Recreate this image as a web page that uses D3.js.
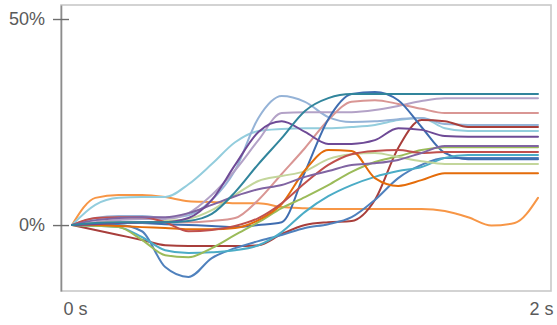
<!DOCTYPE html>
<html>
<head>
<meta charset="utf-8">
<script src="https://cdn.jsdelivr.net/npm/d3@7"></script>
<style>
  body { margin: 0; background: #fff; }
  svg { display: block; }
</style>
</head>
<body>
<svg id="chart" width="557" height="325"></svg>
<script>
// Sample times (seconds) shared by every trace
const times = [0, 0.1, 0.2, 0.3, 0.4, 0.5, 0.6, 0.7, 0.8, 0.9, 1.0,
               1.1, 1.2, 1.3, 1.4, 1.5, 1.6, 1.7, 1.8, 1.9, 2.0];

// Relative change (%) of each trace at those times
const teal      = [0, 0.5, 0.7, 0.7, 0.7, 1.0, 2.7, 8.0, 14.8, 21.1, 27.7, 30.8, 31.8, 31.8, 31.8, 31.8, 31.8, 31.8, 31.8, 31.8, 31.8];
const orange    = [0, 6.6, 7.3, 7.3, 6.8, 5.8, 5.6, 5.3, 5.3, 4.4, 4.1, 3.9, 3.9, 3.9, 3.9, 3.9, 3.4, 1.9, -0.1, 0.5, 6.6];
const lightCyan = [0, 4.9, 6.6, 6.8, 6.8, 9.9, 14.8, 20.1, 22.8, 23.3, 23.5, 23.5, 23.8, 24.3, 25.5, 26.0, 23.5, 22.8, 22.8, 22.8, 22.8];
const lightBlue = [0, 1.7, 2.2, 2.2, 1.7, 2.4, 6.1, 13.3, 26.0, 31.3, 29.9, 26.2, 25.0, 25.2, 25.7, 26.0, 24.5, 24.3, 24.3, 24.3, 24.3];
const lilac     = [0, 0.7, 1.2, 1.5, 1.5, 2.9, 7.3, 13.3, 20.6, 27.2, 27.4, 27.4, 27.4, 27.9, 28.9, 30.1, 30.8, 30.8, 30.8, 30.8, 30.8];
const rose      = [0, 0.5, 0.7, 0.7, 0.7, 0.7, 1.0, 1.7, 6.1, 12.4, 18.7, 25.5, 29.9, 30.3, 29.4, 28.2, 27.2, 27.2, 27.2, 27.2, 27.2];
const darkRed   = [0, -1.2, -2.4, -3.6, -4.9, -5.1, -5.1, -5.1, -4.9, -2.2, 0, 0.7, 1.0, 6.1, 18.7, 25.5, 25.2, 23.8, 23.8, 23.8, 23.8];
const blue      = [0, 0, 0, -1.5, -10.2, -12.6, -8.0, -5.6, -3.9, -2.4, -0.7, 0.2, 1.9, 6.1, 11.4, 14.6, 16.3, 16.3, 16.3, 16.3, 16.3];
const navy      = [0, 0.2, 0.5, 0.5, 0.2, 0, -0.2, -0.5, 0, 0.7, 12.9, 25.7, 31.8, 32.3, 30.3, 23.8, 17.5, 16.0, 16.0, 16.0, 16.0];
const aqua      = [0, -0.2, -0.5, -2.9, -6.1, -6.8, -6.6, -6.1, -4.9, -1.7, 3.2, 7.0, 9.7, 11.7, 13.1, 14.1, 16.3, 17.0, 17.0, 17.0, 17.0];
const green     = [0, -0.2, -0.5, -3.6, -7.3, -7.8, -5.6, -2.4, 0.7, 4.1, 6.8, 9.7, 12.9, 15.3, 16.7, 18.2, 18.9, 18.9, 18.9, 18.9, 18.9];
const paleGreen = [0, 0.5, 0.7, 0.7, 1.0, 1.5, 3.6, 7.3, 10.7, 11.9, 13.1, 16.0, 17.2, 17.5, 16.5, 15.5, 14.8, 14.8, 14.8, 14.8, 14.8];
const rust      = [0, 0, -0.2, -0.5, -0.7, -1.0, -1.0, -0.7, 1.2, 5.1, 13.3, 18.2, 18.0, 11.4, 9.5, 10.9, 12.6, 12.6, 12.6, 12.6, 12.6];
const red       = [0, 1.7, 1.9, 1.9, 0.7, -1.5, -1.2, -0.2, 1.7, 5.3, 10.2, 14.6, 17.2, 18.0, 18.2, 17.5, 17.7, 17.7, 17.7, 17.7, 17.7];
const plum      = [0, 0.2, 0.5, 0.7, 0.7, 1.7, 6.1, 14.6, 22.6, 25.2, 22.6, 19.7, 19.7, 20.6, 23.5, 23.1, 21.6, 21.4, 21.4, 21.4, 21.4];
const violet    = [0, 1.2, 1.7, 1.9, 1.9, 2.9, 4.9, 7.0, 8.7, 9.7, 11.7, 13.1, 14.6, 15.0, 15.8, 17.5, 19.2, 19.2, 19.2, 19.2, 19.2];

const seriesValues = [orange, lightCyan, lightBlue, lilac, rose, darkRed, blue, navy,
                      aqua, green, paleGreen, rust, red, violet, plum, teal];
const seriesColors = ["#F79646", "#93CDDD", "#95B3D7", "#B3A2C7", "#D99694", "#A83E3B", "#4F81BD", "#3F6DB0",
                      "#4BACC6", "#9BBB59", "#C3D69B", "#E46C0A", "#C0504D", "#8064A2", "#6E4A96", "#31859C"];

// Axis ticks
const yTicks = [0, 50];
const yTickLabels = ["0%", "50%"];
const xTicks = [0, 2];
const xTickLabels = ["0 s", "2 s"];

const svg = d3.select("#chart");
const frame = { left: 61, top: 5, right: 551, bottom: 291 };

const x = d3.scaleLinear().domain([0, 2]).range([72, 538]);
const y = d3.scaleLinear().domain([-16, 53.4]).range([frame.bottom, frame.top]);

// Plot frame
svg.append("rect")
  .attr("x", frame.left).attr("y", frame.top)
  .attr("width", frame.right - frame.left)
  .attr("height", frame.bottom - frame.top)
  .attr("fill", "none")
  .attr("stroke", "#c9c9c9")
  .attr("stroke-width", 1.6);

// Traces
const line = d3.line()
  .x((d, i) => x(times[i]))
  .y(d => y(d))
  .curve(d3.curveMonotoneX);

svg.append("g")
  .selectAll("path")
  .data(seriesValues)
  .join("path")
  .attr("d", d => line(d))
  .attr("fill", "none")
  .attr("stroke", (d, i) => seriesColors[i])
  .attr("stroke-width", 2)
  .attr("stroke-linejoin", "round")
  .attr("stroke-linecap", "round");

// Left axis: ticks cross the axis line
const yAxis = d3.axisLeft(y)
  .tickValues(yTicks)
  .tickFormat((d, i) => yTickLabels[i])
  .tickSizeInner(8)
  .tickSizeOuter(0)
  .tickPadding(8);

const gy = svg.append("g")
  .attr("transform", `translate(${frame.left},0)`)
  .call(yAxis);
gy.select(".domain").attr("stroke", "#8c8c8c").attr("stroke-width", 1.6);
gy.selectAll(".tick line").attr("x1", 8).attr("x2", -8).attr("stroke", "#6e6e6e").attr("stroke-width", 1.4);
gy.selectAll(".tick text")
  .attr("fill", "#5a5a5a")
  .style("font-family", "'Liberation Sans', Arial, sans-serif")
  .style("font-size", "18px");

// Bottom axis: labels only
const xAxis = d3.axisBottom(x)
  .tickValues(xTicks)
  .tickFormat((d, i) => xTickLabels[i])
  .tickSize(0)
  .tickPadding(11);

const gx = svg.append("g")
  .attr("transform", `translate(0,${frame.bottom})`)
  .call(xAxis);
gx.select(".domain").remove();
gx.selectAll(".tick text")
  .attr("dx", 3)
  .attr("fill", "#5a5a5a")
  .style("font-family", "'Liberation Sans', Arial, sans-serif")
  .style("font-size", "18px");
</script>
</body>
</html>
